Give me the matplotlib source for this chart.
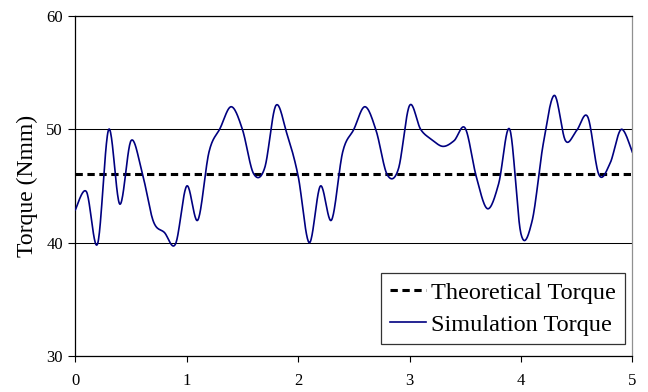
import numpy as np
import matplotlib
matplotlib.use("Agg")
import matplotlib.pyplot as plt

# simulation samples every 0.1
time = [round(0.1 * i, 1) for i in range(51)]
sim_torque = [
    42.9, 44.5, 39.9, 50.0, 43.4, 49.0, 46.2, 41.9, 40.9, 39.9,
    45.0, 42.0, 48.0, 50.1, 52.0, 50.0, 46.1, 46.6, 52.1, 49.6,
    45.9, 40.0, 45.0, 42.0, 48.0, 50.0, 52.0, 49.9, 46.0, 46.5,
    52.1, 50.0, 49.1, 48.5, 49.0, 50.1, 45.8, 43.0, 45.2, 50.0,
    40.8, 41.9, 48.7, 53.0, 49.0, 49.9, 51.1, 46.0, 47.0, 50.0,
    48.0,
]
theory_x = [0, 5]
theory_torque = [46.1, 46.1]

x_ticks = [0, 1, 2, 3, 4, 5]
y_ticks = [30, 40, 50, 60]


def smooth(xs, ys, n=24):
    # Excel-style smoothed line (Catmull-Rom as cubic bezier)
    p = np.column_stack([xs, ys]).astype(float)
    p = np.vstack([p[0], p, p[-1]])
    t = np.linspace(0, 1, n, endpoint=False)[:, None]
    out = []
    for i in range(1, len(p) - 2):
        p0, p1, p2, p3 = p[i - 1], p[i], p[i + 1], p[i + 2]
        b1 = p1 + (p2 - p0) / 6
        b2 = p2 - (p3 - p1) / 6
        seg = ((1 - t) ** 3) * p1 + 3 * ((1 - t) ** 2) * t * b1 \
            + 3 * (1 - t) * t ** 2 * b2 + t ** 3 * p2
        out.append(seg)
    out.append(p[-2][None, :])
    out = np.vstack(out)
    return out[:, 0], out[:, 1]


plt.rcParams["font.family"] = ["Liberation Serif", "DejaVu Serif"]

fig = plt.figure(figsize=(6.48, 3.92), dpi=100)
ax = fig.add_axes([0.1162, 0.0918, 0.8596, 0.8672])

sx, sy = smooth(time, sim_torque)
ax.plot(theory_x, theory_torque, color="black", lw=2.2, dashes=(2.4, 1.5),
        label="Theoretical Torque", zorder=3)
ax.plot(sx, sy, color="#000080", lw=1.2, label="Simulation Torque", zorder=4)

ax.set_xlim(0, 5)
ax.set_ylim(30, 60)
ax.set_xticks(x_ticks)
ax.set_yticks(y_ticks)
ax.yaxis.grid(True, color="black", lw=0.75)
ax.set_axisbelow(True)

for s in ["left", "bottom", "top"]:
    ax.spines[s].set_color("black")
    ax.spines[s].set_linewidth(0.9)
ax.spines["right"].set_color("#909090")
ax.spines["right"].set_linewidth(0.9)

ax.tick_params(axis="x", direction="out", length=4, width=0.8, pad=8,
               labelsize=12)
ax.tick_params(axis="y", direction="out", length=5, width=0.8, pad=4,
               labelsize=12)
ax.set_ylabel("Torque (Nmm)", fontsize=17, labelpad=6)

leg = ax.legend(loc="lower right", bbox_to_anchor=(0.986, 0.035), fontsize=17.5,
                frameon=True, fancybox=False, edgecolor="black",
                handlelength=1.5, handletextpad=0.2, borderpad=0.35,
                labelspacing=0.4, borderaxespad=0)
leg.get_frame().set_linewidth(0.9)

fig.savefig("out.png", dpi=100)
